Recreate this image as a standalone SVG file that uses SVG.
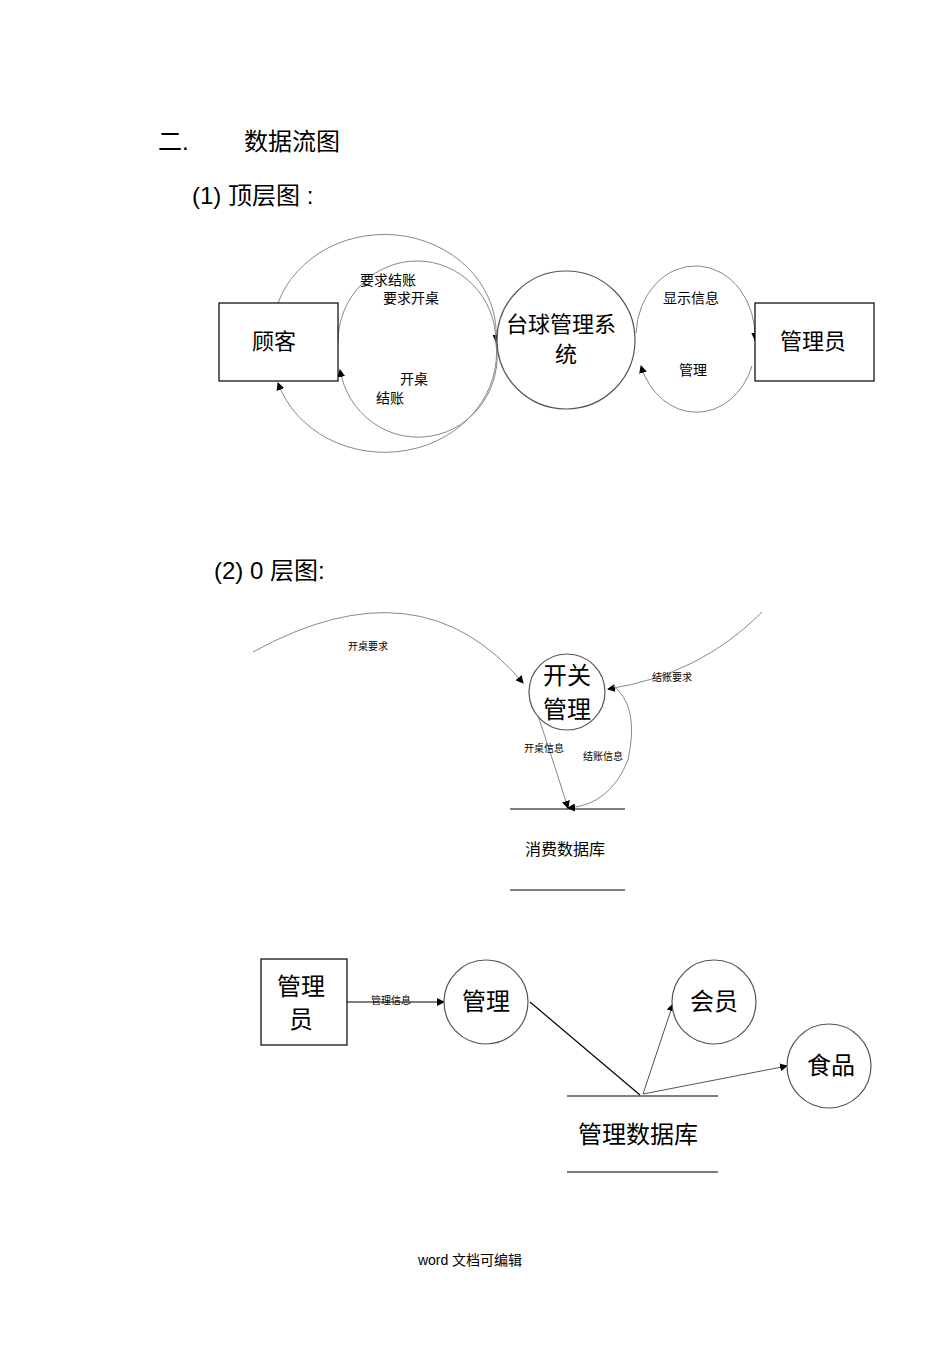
<svg xmlns="http://www.w3.org/2000/svg" width="950" height="1345" viewBox="0 0 950 1345">
<style>
text{font-family:"Liberation Serif","Noto Sans CJK SC",serif;fill:#000}
.h{font-family:"Liberation Sans","Noto Sans CJK SC",sans-serif;font-size:24px}
.n{fill:#fff;stroke:#000;stroke-width:1.2}
.c{fill:none;stroke:#888;stroke-width:1}
.s{stroke:#000;stroke-width:1.2}
</style>
<defs><marker id="a" markerWidth="8" markerHeight="8" refX="7" refY="4" orient="auto" markerUnits="userSpaceOnUse"><path d="M0,0L8,4L0,8z" fill="#000"/></marker></defs>
<rect width="950" height="1345" fill="#fff"/>
<text class="h" x="158" y="150">二.</text>
<text class="h" x="244" y="150">数据流图</text>
<text class="h" x="192" y="204">(1)  顶层图 :</text>
<text class="h" x="214" y="579">(2) 0 层图:</text>
<g id="conn">
<path class="c" d="M278,303 A112,100 0 0 1 496,342" marker-end="url(#a)"/>
<path class="c" d="M496,342 A112,100 0 0 1 278,383" marker-end="url(#a)"/>
<path class="c" d="M338,342 A78,80 0 0 1 496,342"/>
<path class="c" d="M496,342 A78,80 0 0 1 340,370" marker-end="url(#a)"/>
<path class="c" d="M636,333 A59,70 0 0 1 755,340" marker-end="url(#a)"/>
<path class="c" d="M752,366 A59,70 0 0 1 641,366" marker-end="url(#a)"/>
<path class="c" d="M253,652 Q420,560 523,683" marker-end="url(#a)"/>
<path class="c" d="M762,612 Q700,675 608,689" marker-end="url(#a)"/>
<path class="c" d="M529,690 Q540,720 568,808" marker-end="url(#a)"/>
<path class="c" d="M612,685 Q640,705 628,760 Q610,805 568,808" marker-end="url(#a)"/>
<path class="s" d="M347,1002H444" marker-end="url(#a)"/>
<path class="s" d="M530,1002L640,1095"/>
<path class="c" style="stroke:#555" d="M643,1094L673,1004" marker-end="url(#a)"/>
<path class="c" style="stroke:#555" d="M643,1094L787,1066" marker-end="url(#a)"/>
</g>
<text x="360" y="285" font-size="14">要求结账</text>
<text x="383" y="303" font-size="14">要求开桌</text>
<text x="400" y="384" font-size="14">开桌</text>
<text x="376" y="403" font-size="14">结账</text>
<text x="663" y="303" font-size="14">显示信息</text>
<text x="679" y="375" font-size="14">管理</text>
<text x="348" y="650" font-size="10">开桌要求</text>
<text x="652" y="681" font-size="10">结账要求</text>
<text x="524" y="752" font-size="10">开桌信息</text>
<text x="583" y="760" font-size="10">结账信息</text>
<text x="371" y="1004" font-size="10">管理信息</text>
<g id="guke"><rect class="n" x="219" y="303" width="119" height="78"/><text x="274" y="349" font-size="22" text-anchor="middle">顾客</text></g>
<g id="sys"><circle class="n" cx="566" cy="340" r="69" style="stroke:#555"/><text x="561" y="332" font-size="22" text-anchor="middle">台球管理系</text><text x="566" y="362" font-size="22" text-anchor="middle">统</text></g>
<g id="admin"><rect class="n" x="755" y="303" width="119" height="78"/><text x="813" y="349" font-size="22" text-anchor="middle">管理员</text></g>
<g id="kg"><circle class="n" cx="567" cy="692" r="38" style="stroke:#555"/><text x="567" y="684" font-size="24" text-anchor="middle">开关</text><text x="567" y="718" font-size="24" text-anchor="middle">管理</text></g>
<g id="xf"><path class="s" d="M510,809H625M510,890H625"/><text x="565" y="855" font-size="16" text-anchor="middle">消费数据库</text></g>
<g id="admin2"><rect class="n" x="261" y="959" width="86" height="86"/><text x="301" y="995" font-size="24" text-anchor="middle">管理</text><text x="301" y="1028" font-size="24" text-anchor="middle">员</text></g>
<g id="gl"><circle class="n" cx="486" cy="1002" r="42" style="stroke:#555"/><text x="486" y="1010" font-size="24" text-anchor="middle">管理</text></g>
<g id="hy"><circle class="n" cx="714" cy="1002" r="42" style="stroke:#555"/><text x="714" y="1010" font-size="24" text-anchor="middle">会员</text></g>
<g id="sp"><circle class="n" cx="829" cy="1066" r="42" style="stroke:#555"/><text x="831" y="1074" font-size="24" text-anchor="middle">食品</text></g>
<g id="gls"><path class="s" d="M567,1096H718M567,1172H718"/><text x="638" y="1143" font-size="24" text-anchor="middle">管理数据库</text></g>
<text x="470" y="1265" font-size="14" text-anchor="middle" style="font-family:'Liberation Sans','Noto Sans CJK SC',sans-serif">word 文档可编辑</text>
</svg>
